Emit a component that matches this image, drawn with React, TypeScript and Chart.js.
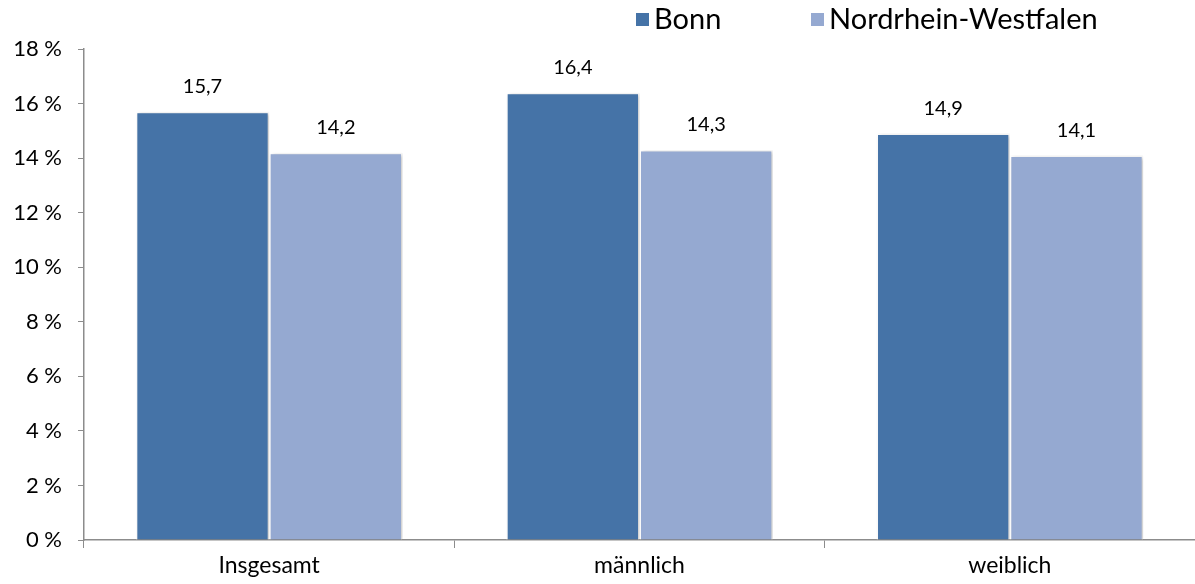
import React, { useEffect, useRef } from "react";
import { Chart, registerables } from "chart.js";

Chart.register(...registerables);

const categories = ["Insgesamt", "männlich", "weiblich"];
const bonnValues = [15.7, 16.4, 14.9];
const nrwValues = [14.2, 14.3, 14.1];
const seriesNames = ["Bonn", "Nordrhein-Westfalen"];
const yTicks = [0, 2, 4, 6, 8, 10, 12, 14, 16, 18];

const BONN = "#4573A7";
const NRW = "#95A9D1";
const FONT = "Lato, 'Open Sans', sans-serif";

const shadowPlugin = {
  id: "barShadow",
  beforeDatasetsDraw(chart: any) {
    const ctx = chart.ctx;
    ctx.save();
    ctx.shadowColor = "rgba(0,0,0,0.22)";
    ctx.shadowBlur = 4;
    ctx.shadowOffsetX = 2;
    ctx.shadowOffsetY = 1;
  },
  afterDatasetsDraw(chart: any) {
    chart.ctx.restore();
    const ctx = chart.ctx;
    ctx.save();
    ctx.font = `20px ${FONT}`;
    ctx.fillStyle = "#000";
    ctx.textAlign = "center";
    ctx.textBaseline = "middle";
    chart.data.datasets.forEach((ds: any, i: number) => {
      const meta = chart.getDatasetMeta(i);
      meta.data.forEach((bar: any, j: number) => {
        const v = ds.data[j];
        ctx.fillText(v.toFixed(1).replace(".", ","), bar.x, bar.y - 25);
      });
    });
    ctx.restore();
  },
};

const legendPlugin = {
  id: "customLegend",
  afterDraw(chart: any) {
    const ctx = chart.ctx;
    ctx.save();
    ctx.font = `29px ${FONT}`;
    ctx.textBaseline = "middle";
    ctx.textAlign = "left";
    const items = [
      { x: 636, color: BONN, label: seriesNames[0] },
      { x: 811, color: NRW, label: seriesNames[1] },
    ];
    items.forEach((it) => {
      ctx.fillStyle = it.color;
      ctx.fillRect(it.x, 13, 13, 13);
      ctx.fillStyle = "#000";
      ctx.fillText(it.label, it.x + 18, 20);
    });
    ctx.restore();
  },
};

export default function App() {
  const ref = useRef<HTMLCanvasElement>(null);
  useEffect(() => {
    document.body.style.margin = "0";
    const chart = new Chart(ref.current!, {
      type: "bar",
      data: {
        labels: categories,
        datasets: [
          {
            label: seriesNames[0],
            data: bonnValues,
            backgroundColor: BONN,
            borderColor: "#ffffff",
            borderWidth: 1.5,
            categoryPercentage: 0.72,
            barPercentage: 1,
          },
          {
            label: seriesNames[1],
            data: nrwValues,
            backgroundColor: NRW,
            borderColor: "#ffffff",
            borderWidth: 1.5,
            categoryPercentage: 0.72,
            barPercentage: 1,
          },
        ],
      },
      options: {
        animation: false,
        responsive: true,
        maintainAspectRatio: false,
        layout: { padding: { top: 49, right: 0, left: 0, bottom: 0 } },
        plugins: { legend: { display: false }, tooltip: { enabled: false } },
        scales: {
          x: {
            offset: true,
            grid: {
              offset: true,
              drawOnChartArea: false,
              tickLength: 8,
              color: "#8c8c8c",
            },
            border: { color: "#8c8c8c", width: 1.5 },
            ticks: { font: { family: FONT, size: 23 }, color: "#000", padding: 4 },
            afterFit(scale: any) {
              scale.height = 44;
            },
          },
          y: {
            min: 0,
            max: 18,
            afterBuildTicks(scale: any) {
              scale.ticks = yTicks.map((v) => ({ value: v }));
            },
            grid: {
              drawOnChartArea: false,
              tickLength: 6,
              color: "#8c8c8c",
            },
            border: { color: "#8c8c8c", width: 1.5 },
            ticks: {
              font: { family: FONT, size: 22 },
              color: "#000",
              padding: 16,
              callback: (v: any) => `${v} %`,
            },
            afterFit(scale: any) {
              scale.width = 84;
            },
          },
        },
      },
      plugins: [shadowPlugin, legendPlugin],
    });
    return () => chart.destroy();
  }, []);
  return (
    <div style={{ width: 1195, height: 584, position: "relative" }}>
      <canvas ref={ref} />
    </div>
  );
}
